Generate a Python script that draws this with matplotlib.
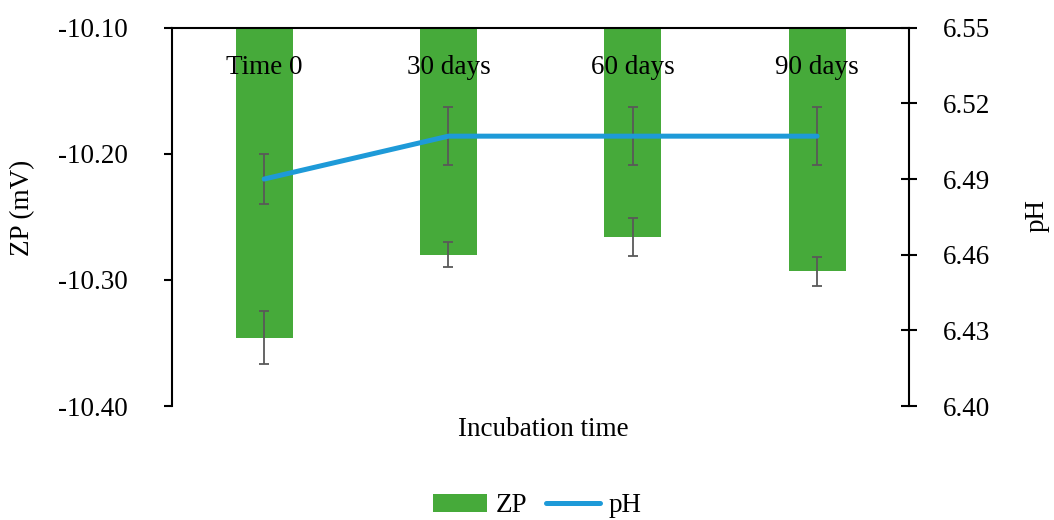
import numpy as np
import matplotlib
matplotlib.use('Agg')
import matplotlib.pyplot as plt
from matplotlib.lines import Line2D
from matplotlib.patches import Patch

plt.rcParams['font.family'] = ['Liberation Serif', 'DejaVu Serif']

categories = ['Time 0', '30 days', '60 days', '90 days']
zp = [-10.346, -10.280, -10.266, -10.293]
zp_err = [0.021, 0.010, 0.015, 0.0115]
ph = [6.490, 6.507, 6.507, 6.507]
ph_err = [0.010, 0.0115, 0.0115, 0.0115]

GREEN = '#46aa3a'
BLUE = '#1e9ad8'
ERR = '#595959'
FS = 19.5

fig = plt.figure(figsize=(10.54, 5.2), dpi=100)
ax = fig.add_axes([0.1632, 0.2192, 0.6995, 0.7275])
x = np.arange(len(categories))

# bars hang down from the top of the ZP axis
top = -10.10
ax.bar(x, np.array(zp) - top, bottom=top, width=0.31, color=GREEN, zorder=2)
ax.errorbar(x, zp, yerr=zp_err, fmt='none', ecolor=ERR, elinewidth=1.3,
            capsize=3.8, capthick=1.3, zorder=3)
ax.set_ylim(-10.40, -10.10)
ax.set_xlim(-0.5, len(categories) - 0.5)
zp_ticks = [-10.40, -10.30, -10.20, -10.10]
ax.set_yticks(zp_ticks)
ax.set_yticklabels(['%.2f' % v for v in zp_ticks], fontsize=FS)
ax.set_xticks([])
ax.spines['bottom'].set_visible(False)
ax.spines['right'].set_visible(False)
ax.spines['left'].set_linewidth(1.5)
ax.spines['top'].set_linewidth(1.5)
ax.tick_params(axis='y', direction='out', length=6, width=1.5, pad=26)

for i, c in enumerate(categories):
    ax.text(i, 0.895, c, transform=ax.get_xaxis_transform(), ha='center',
            va='center', fontsize=FS)

ax2 = ax.twinx()
ax2.errorbar(x, ph, yerr=ph_err, fmt='none', ecolor=ERR, elinewidth=1.3,
             capsize=3.8, capthick=1.3, zorder=3)
ax2.plot(x, ph, color=BLUE, linewidth=3.6, solid_capstyle='round', zorder=4)
ax2.set_ylim(6.40, 6.55)
ph_ticks = [6.40, 6.43, 6.46, 6.49, 6.52, 6.55]
ax2.set_yticks(ph_ticks)
ax2.set_yticklabels(['%.2f' % v for v in ph_ticks], fontsize=FS)
for s in ['top', 'bottom', 'left']:
    ax2.spines[s].set_visible(False)
ax2.spines['right'].set_linewidth(1.5)
ax2.tick_params(axis='y', direction='inout', length=12, width=1.5, pad=18)

fig.text(23 / 1054, 1 - 208 / 520, 'ZP (mV)', rotation=90, ha='center',
         va='center', fontsize=FS)
fig.text(1037 / 1054, 1 - 215 / 520, 'pH', rotation=90, ha='center',
         va='center', fontsize=FS)
fig.text(543 / 1054, 1 - 430 / 520, 'Incubation time', ha='center',
         va='center', fontsize=FS)

handles = [Patch(facecolor=GREEN, label='ZP'),
           Line2D([0], [0], color=BLUE, linewidth=3.6, solid_capstyle='round', label='pH')]
fig.legend(handles=handles, loc='center', bbox_to_anchor=(537 / 1054, 1 - 506 / 520),
           ncol=2, frameon=False, fontsize=FS, handlelength=2.0, handleheight=0.6,
           columnspacing=0.7, handletextpad=0.3)

fig.savefig('out.png', dpi=100)
